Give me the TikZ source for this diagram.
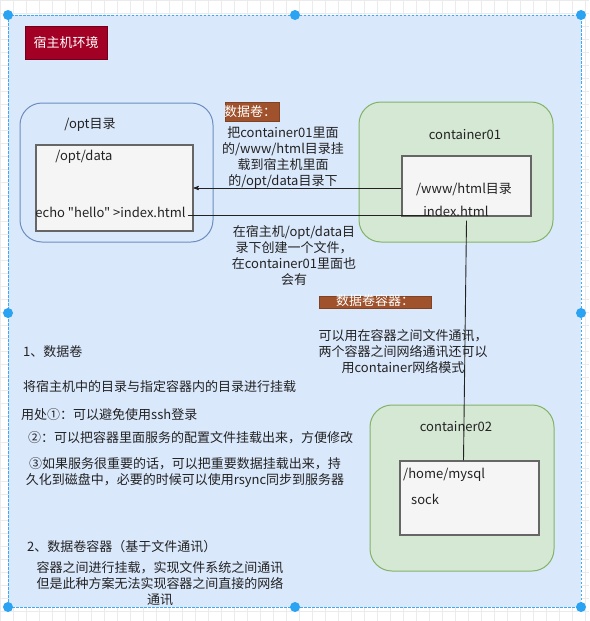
\documentclass[tikz,border=0pt]{standalone}
\usepackage{fontspec}
\setmainfont{Noto Sans CJK SC}[Ligatures=TeXOff]
\usetikzlibrary{positioning,arrows}
\definecolor{hostbg}{HTML}{DAE8FC}
\definecolor{hostline}{HTML}{3FA9F5}
\definecolor{handle}{HTML}{2AA3F3}
\definecolor{blueline}{HTML}{6C8EBF}
\definecolor{greenbg}{HTML}{D5E8D4}
\definecolor{greenline}{HTML}{82B366}
\definecolor{filebg}{HTML}{F5F5F5}
\definecolor{fileline}{HTML}{666666}
\definecolor{titlered}{HTML}{A20025}
\definecolor{tagbrown}{HTML}{A0522D}
\definecolor{textgray}{HTML}{222222}
\definecolor{gridgray}{HTML}{EBEBEB}

\begin{document}
\begin{tikzpicture}[x=1pt,y=-1pt,>=stealth',
    txt/.style={font=\fontsize{13}{16}\selectfont, text=textgray, inner sep=0pt},
    whitetxt/.style={txt, text=white},
    bluebox/.style={draw=blueline, fill=hostbg, line width=1pt, rounded corners=22pt},
    greenbox/.style={draw=greenline, fill=greenbg, line width=1pt, rounded corners=22pt},
    filebox/.style={draw=fileline, fill=filebg, line width=1.1pt},
    link/.style={draw=textgray, line width=0.9pt}]

\useasboundingbox (0,0) rectangle (589,621);
\fill[white] (0,0) rectangle (589,621);
\draw[gridgray, step=13pt] (0,0) grid (589,621);

\draw[hostline, fill=hostbg, dash pattern=on 2.5pt off 1.5pt, line width=0.8pt] (8,15) rectangle (581,607);
\foreach \hx/\hy in {8/15, 295/15, 581/15, 8/313, 581/313, 8/607, 295/607, 581/607}
  \fill[handle] (\hx,\hy) circle (5pt);

\node[whitetxt, fill=titlered, draw=titlered!70!black, minimum width=82, minimum height=33] (T) at (66,42.5) {宿主机环境};

\node[bluebox, minimum width=193, minimum height=139] (A) at (116.5,172.5) {};
\node[txt] (Al) at (90,125) {/opt目录};
\node[filebox, minimum width=157, minimum height=86] (B) at (114.5,188) {};
\node[txt] (Bl) at (84,157) {/opt/data};
\node[txt] (Be) at (110.5,212) {echo "hello" >index.html};

\node[greenbox, minimum width=194, minimum height=140] (C) at (456,172) {};
\node[txt] (Cl) at (465,135) {container01};
\node[filebox, minimum width=129, minimum height=60] (Ci) at (466.5,186) {};
\node[txt] (Cw) at (464,189) {/www/html目录};
\node[txt] (Cx) at (456,211) {index.html};

\node[greenbox, minimum width=184, minimum height=166] (D) at (462,488) {};
\node[txt] (Dl) at (456,427) {container02};
\node[filebox, minimum width=139, minimum height=74] (Di) at (469.5,498) {};
\node[txt, anchor=west] (Dm) at (403,475) {/home/mysql};
\node[txt, anchor=west] (Ds) at (411,499) {sock};

\draw[tagbrown!80!black, fill=tagbrown] (225,102) rectangle (279,121);
\node[whitetxt] (V) at (250,111.5) {数据卷：};
\node[txt, align=center] (V1) at (283,157.5)
  {把container01里面\\的/www/html目录挂\\载到宿主机里面\\的/opt/data目录下};
\node[txt, align=center] (V2) at (294,255.5)
  {在宿主机/opt/data目\\录下创建一个文件，\\在container01里面也\\会有};

\draw[tagbrown!80!black, fill=tagbrown] (319,296) rectangle (431,308);
\node[whitetxt] (W) at (375,301) {数据卷容器：};
\node[txt, align=center] (W1) at (403,352)
  {可以用在容器之间文件通讯，\\两个容器之间网络通讯还可以\\用container网络模式};

\node[txt, anchor=west] (L1) at (23,352) {1、数据卷};
\node[txt, anchor=west] (L2) at (23,387) {将宿主机中的目录与指定容器内的目录进行挂载};
\node[txt, anchor=west] (L3) at (21,415) {用处①：可以避免使用ssh登录};
\node[txt, anchor=west] (L4) at (28,438) {②：可以把容器里面服务的配置文件挂载出来，方便修改};
\node[txt, align=center] (L5) at (185,472.5)
  {③如果服务很重要的话，可以把重要数据挂载出来，持\\久化到磁盘中，必要的时候可以使用rsync同步到服务器};
\node[txt, anchor=west] (L6) at (27,547) {2、数据卷容器（基于文件通讯）};
\node[txt, align=center] (L7) at (160,584)
  {容器之间进行挂载，实现文件系统之间通讯\\但是此种方案无法实现容器之间直接的网络\\通讯};

\draw[link,->] (Ci.west |- B.east) -- (B.east);
\draw[link] ([xshift=2pt,yshift=-3pt]Be.east) -- ([xshift=8pt,yshift=-3pt]Be.east -| Cx.west);
\draw[link] ([yshift=-4pt]Ci.south) -- ([xshift=-6pt]Di.north);
\end{tikzpicture}
\end{document}
